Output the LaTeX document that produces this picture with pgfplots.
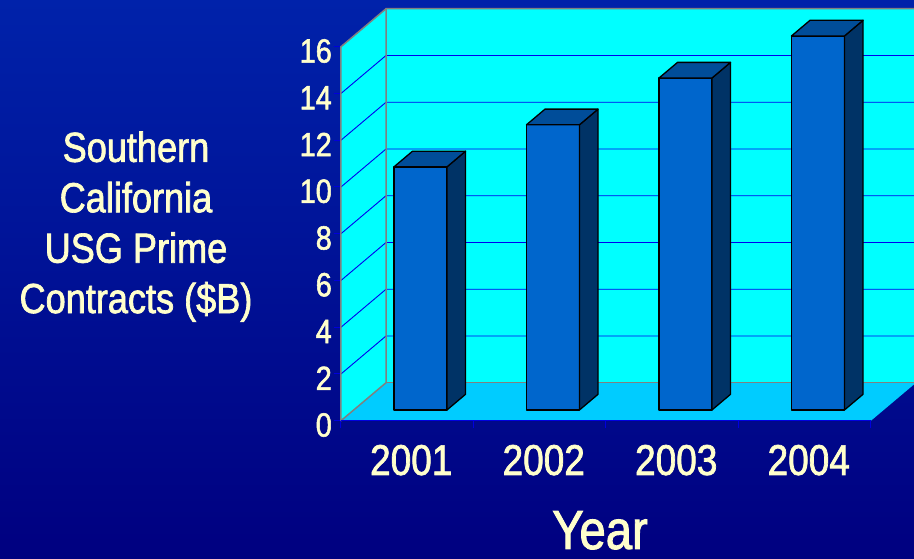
\documentclass[border=0pt]{standalone}
\usepackage{fontspec}
\setmainfont{Liberation Sans}[FakeStretch=0.86, FakeBold=1.6]
\usepackage{pgfplots}
\usepackage{pgfplotstable}
\pgfplotsset{compat=1.18}

\definecolor{bgtop}{HTML}{0022AA}
\definecolor{bgbot}{HTML}{000080}
\definecolor{wall}{HTML}{00FFFF}
\definecolor{floorc}{HTML}{00CCFF}
\definecolor{gridc}{HTML}{0000EE}
\definecolor{edgec}{HTML}{808080}
\definecolor{tickc}{HTML}{0000DD}
\definecolor{cfront}{HTML}{0066CC}
\definecolor{cside}{HTML}{003366}
\definecolor{ctop}{HTML}{004D99}
\definecolor{txt}{HTML}{FFFFCC}

\pgfplotstableread{
x v
1 10.4
2 12.2
3 14.2
4 16.0
}\bardata

\begin{document}
\begin{tikzpicture}
% background (picture = 914 x 558 pt, axis origin at (0,0))
\shade[top color=bgtop, bottom color=bgbot] (-341pt,-137.3pt) rectangle (573pt,420.7pt);
\begin{axis}[
  at={(0pt,0pt)}, anchor=south west,
  scale only axis, width=530pt, height=374pt,
  xmin=0.5, xmax=4.5, ymin=0, ymax=16,
  clip=false,
  axis line style={draw=none},
  tick pos=left, tick align=outside,
  major tick length=7pt,
  major tick style={draw=tickc, line width=1pt},
  xtick={0.5,1.5,2.5,3.5,4.5},
  x tick label as interval,
  xticklabels={2001,2002,2003,2004},
  ytick={0,2,...,16},
  /pgf/number format/assume math mode=true,
  yticklabel style={font=\fontsize{33.5}{40}\selectfont, text=txt, inner sep=0pt, xshift=-2pt, yshift=-4.3pt},
  xticklabel style={font=\fontsize{43}{50}\selectfont, text=txt, inner sep=0pt, xshift=4pt, yshift=-17pt},
  xlabel={Year},
  xlabel style={font=\fontsize{55}{64}\selectfont, text=txt, at={(axis description cs:0.4887,-0.343)}, anchor=base, inner sep=0pt},
  ylabel={Southern\\California\\USG Prime\\Contracts (\$B)},
  ylabel style={font=\fontsize{42}{50.4}\selectfont, text=txt, rotate=-90, align=center, at={(axis description cs:-0.3868,0.519)}, anchor=center, inner sep=0pt},
  barfront/.style={fill=cfront, draw=black, line width=1.3pt, line join=round},
  barside/.style={fill=cside, draw=black, line width=1.3pt, line join=round},
  bartop/.style={fill=ctop, draw=black, line width=1.3pt, line join=round},
]
% back wall
\addplot[fill=wall, draw=none] coordinates {(0.84,1.625) (4.8245,1.625) (4.8245,17.625) (0.84,17.625)} --cycle;
% left wall
\addplot[fill=wall, draw=none] coordinates {(0.5,0) (0.84,1.625) (0.84,17.625) (0.5,16)} --cycle;
% floor
\addplot[fill=floorc, draw=none] coordinates {(0.5,0) (4.5,0) (4.8245,1.551) (4.8245,1.625) (0.84,1.625)} --cycle;
% gridlines
\addplot[gridc, line width=0.9pt] coordinates {(0.5,2) (0.84,3.625) (4.8245,3.625)};
\addplot[gridc, line width=0.9pt] coordinates {(0.5,4) (0.84,5.625) (4.8245,5.625)};
\addplot[gridc, line width=0.9pt] coordinates {(0.5,6) (0.84,7.625) (4.8245,7.625)};
\addplot[gridc, line width=0.9pt] coordinates {(0.5,8) (0.84,9.625) (4.8245,9.625)};
\addplot[gridc, line width=0.9pt] coordinates {(0.5,10) (0.84,11.625) (4.8245,11.625)};
\addplot[gridc, line width=0.9pt] coordinates {(0.5,12) (0.84,13.625) (4.8245,13.625)};
\addplot[gridc, line width=0.9pt] coordinates {(0.5,14) (0.84,15.625) (4.8245,15.625)};
% grey wall edges
\addplot[edgec, line width=1.5pt] coordinates {(0.5,0) (0.5,16) (0.84,17.625) (4.8245,17.625)};
\addplot[edgec, line width=1.5pt] coordinates {(0.5,0) (0.84,1.625) (0.84,17.625)};
\addplot[edgec, line width=1.5pt] coordinates {(0.84,1.625) (4.8245,1.625)};
% floor front edge
\addplot[tickc, line width=1.2pt] coordinates {(0.5,0) (4.5,0)};
% bars
\pgfplotsinvokeforeach{0,1,2,3}{
  \pgfplotstablegetelem{#1}{x}\of\bardata \pgfmathsetmacro\cx{\pgfplotsretval}
  \pgfplotstablegetelem{#1}{v}\of\bardata \pgfmathsetmacro\cv{\pgfplotsretval}
  \pgfmathsetmacro\xl{\cx-0.1}
  \pgfmathsetmacro\xr{\cx+0.3}
  \pgfmathsetmacro\xb{\cx+0.44}
  \pgfmathsetmacro\xbl{\cx+0.04}
  \pgfmathsetmacro\yf{\cv+0.46}
  \pgfmathsetmacro\yb{\cv+1.13}
  \edef\doit{%
    \noexpand\addplot[barfront] coordinates {(\xl,0.46) (\xr,0.46) (\xr,\yf) (\xl,\yf)} --cycle;
    \noexpand\addplot[barside] coordinates {(\xr,0.46) (\xb,1.13) (\xb,\yb) (\xr,\yf)} --cycle;
    \noexpand\addplot[bartop] coordinates {(\xl,\yf) (\xr,\yf) (\xb,\yb) (\xbl,\yb)} --cycle;
  }\doit
}
\end{axis}
\pgfresetboundingbox
\path[use as bounding box] (-341pt,-137.3pt) rectangle (573pt,420.7pt);
\end{tikzpicture}
\end{document}
